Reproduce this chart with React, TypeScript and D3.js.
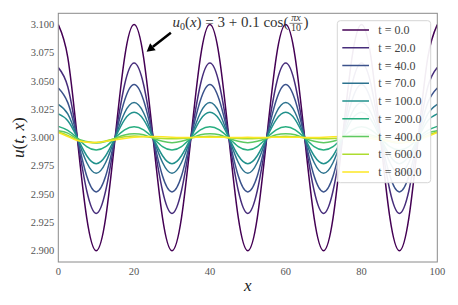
import * as d3 from "d3";
import { useEffect, useRef } from "react";

// sample positions along x (every 2.5 units)
const X_POS = [
  0, 2.5, 5, 7.5, 10, 12.5, 15, 17.5, 20, 22.5, 25, 27.5, 30, 32.5, 35, 37.5,
  40, 42.5, 45, 47.5, 50, 52.5, 55, 57.5, 60, 62.5, 65, 67.5, 70, 72.5, 75,
  77.5, 80, 82.5, 85, 87.5, 90, 92.5, 95, 97.5, 100,
];

const LABELS = ["0.0", "20.0", "40.0", "70.0", "100.0", "200.0", "400.0", "600.0", "800.0"];

// values, one array per time
const U_T0 = [
  3.1, 3.071, 3.0, 2.929, 2.9, 2.929, 3.0, 3.071, 3.1, 3.071, 3.0, 2.929, 2.9, 2.929, 3.0, 3.071,
  3.1, 3.071, 3.0, 2.929, 2.9, 2.929, 3.0, 3.071, 3.1, 3.071, 3.0, 2.929, 2.9, 2.929, 3.0, 3.071,
  3.1, 3.071, 3.0, 2.929, 2.9, 2.929, 3.0, 3.071, 3.1,
];
const U_T20 = [
  3.062, 3.045, 3.0, 2.953, 2.933, 2.953, 3.0, 3.047, 3.066, 3.047, 3.0, 2.953, 2.933, 2.953, 3.0, 3.047,
  3.066, 3.047, 3.0, 2.953, 2.933, 2.953, 3.0, 3.047, 3.066, 3.047, 3.0, 2.953, 2.933, 2.953, 3.0, 3.047,
  3.066, 3.047, 3.0, 2.953, 2.933, 2.953, 3.0, 3.045, 3.062,
];
const U_T40 = [
  3.044, 3.031, 3.0, 2.966, 2.952, 2.966, 3.0, 3.033, 3.047, 3.033, 3.0, 2.966, 2.952, 2.966, 3.0, 3.033,
  3.047, 3.033, 3.0, 2.966, 2.952, 2.966, 3.0, 3.033, 3.047, 3.033, 3.0, 2.966, 2.952, 2.966, 3.0, 3.033,
  3.047, 3.033, 3.0, 2.966, 2.952, 2.966, 3.0, 3.031, 3.044,
];
const U_T70 = [
  3.0295, 3.021, 3.0, 2.978, 2.9685, 2.978, 3.0, 3.022, 3.031, 3.022, 3.0, 2.978, 2.9685, 2.978, 3.0, 3.022,
  3.031, 3.022, 3.0, 2.978, 2.9685, 2.978, 3.0, 3.022, 3.031, 3.022, 3.0, 2.978, 2.9685, 2.978, 3.0, 3.022,
  3.031, 3.022, 3.0, 2.978, 2.9685, 2.978, 3.0, 3.021, 3.0295,
];
const U_T100 = [
  3.021, 3.015, 3.0, 2.984, 2.977, 2.984, 3.0, 3.016, 3.0224, 3.016, 3.0, 2.984, 2.977, 2.984, 3.0, 3.016,
  3.0224, 3.016, 3.0, 2.984, 2.977, 2.984, 3.0, 3.016, 3.0224, 3.016, 3.0, 2.984, 2.977, 2.984, 3.0, 3.016,
  3.0224, 3.016, 3.0, 2.984, 2.977, 2.984, 3.0, 3.015, 3.021,
];
const U_T200 = [
  3.01, 3.0065, 2.9997, 2.992, 2.989, 2.992, 2.9997, 3.0068, 3.0096, 3.0068, 2.9997, 2.992, 2.989, 2.992, 2.9997, 3.0068,
  3.0096, 3.0068, 2.9997, 2.992, 2.989, 2.992, 2.9997, 3.0068, 3.0096, 3.0068, 2.9997, 2.992, 2.989, 2.992, 2.9997, 3.0068,
  3.0096, 3.0068, 2.9997, 2.992, 2.989, 2.992, 2.9997, 3.0065, 3.01,
];
const U_T400 = [
  3.006, 3.004, 2.999, 2.9965, 2.9952, 2.9966, 2.9995, 3.0024, 3.0035, 3.0025, 2.9995, 2.9968, 2.9955, 2.9968, 2.9995, 3.0025,
  3.0035, 3.0025, 2.9995, 2.9968, 2.9955, 2.9968, 2.9995, 3.0025, 3.0035, 3.0025, 2.9995, 2.9968, 2.9955, 2.9968, 2.9995, 3.0024,
  3.0035, 3.0024, 2.9995, 2.9966, 2.9952, 2.9965, 2.999, 3.004, 3.006,
];
const U_T600 = [
  3.005, 3.002, 2.998, 2.9962, 2.9958, 2.997, 2.999, 3.0007, 3.0015, 3.001, 3.0, 2.9993, 2.999, 2.9993, 3.0, 3.0008,
  3.0012, 3.0008, 3.0, 2.9993, 2.999, 2.9993, 3.0, 3.0008, 3.0012, 3.0008, 3.0, 2.9993, 2.999, 2.9993, 3.0, 3.001,
  3.0015, 3.0007, 2.999, 2.997, 2.9958, 2.9962, 2.998, 3.002, 3.005,
];
const U_T800 = [
  3.0045, 3.001, 2.9975, 2.996, 2.9958, 2.9967, 2.998, 2.9993, 3.0003, 3.0009, 3.001, 3.0008, 3.0004, 3.0002, 3.0002, 3.0003,
  3.0004, 3.0003, 3.0002, 3.0002, 3.0003, 3.0002, 3.0002, 3.0003, 3.0004, 3.0003, 3.0002, 3.0002, 3.0004, 3.0008, 3.001, 3.0009,
  3.0003, 2.9993, 2.998, 2.9967, 2.9958, 2.996, 2.9975, 3.001, 3.0045,
];
const SERIES = [U_T0, U_T20, U_T40, U_T70, U_T100, U_T200, U_T400, U_T600, U_T800];

const X_TICKS = [0, 20, 40, 60, 80, 100];
const Y_TICKS = [2.9, 2.925, 2.95, 2.975, 3.0, 3.025, 3.05, 3.075, 3.1];

// annotation, in data units
const NOTE_TEXT_AT = [30.1, 3.098];
const ARROW_FROM = [29.7, 3.0928];
const ARROW_TO = [23.3, 3.076];

const W = 458;
const H = 305;
const PLOT = { left: 58.3, right: 437.3, top: 13.3, bottom: 262 };
const SERIF = "'Liberation Serif', 'DejaVu Serif', serif";

export default function App() {
  const svgRef = useRef<SVGSVGElement>(null);

  useEffect(() => {
    if (!svgRef.current) return;
    const svg = d3.select(svgRef.current);
    svg.selectAll("*").remove();

    const x = d3.scaleLinear().domain([0, 100]).range([PLOT.left, PLOT.right]);
    const y = d3.scaleLinear().domain([2.89, 3.11]).range([PLOT.bottom, PLOT.top]);
    const color = (i: number) => d3.interpolateViridis(i / (SERIES.length - 1));

    svg
      .append("clipPath")
      .attr("id", "plot-clip")
      .append("rect")
      .attr("x", PLOT.left)
      .attr("y", PLOT.top)
      .attr("width", PLOT.right - PLOT.left)
      .attr("height", PLOT.bottom - PLOT.top);

    const line = d3
      .line<number>()
      .x((_, i) => x(X_POS[i]))
      .y((d) => y(d))
      .curve(d3.curveNatural);

    const curves = svg.append("g").attr("clip-path", "url(#plot-clip)");
    SERIES.forEach((vals, i) => {
      curves
        .append("path")
        .datum(vals)
        .attr("fill", "none")
        .attr("stroke", color(i))
        .attr("stroke-width", 1.5)
        .attr("d", line);
    });

    // spines
    svg
      .append("rect")
      .attr("x", PLOT.left)
      .attr("y", PLOT.top)
      .attr("width", PLOT.right - PLOT.left)
      .attr("height", PLOT.bottom - PLOT.top)
      .attr("fill", "none")
      .attr("stroke", "#8a8a8a")
      .attr("stroke-width", 1);

    // tick labels
    svg
      .append("g")
      .selectAll("text")
      .data(Y_TICKS)
      .join("text")
      .attr("x", PLOT.left - 4)
      .attr("y", (d) => y(d))
      .attr("text-anchor", "end")
      .attr("dominant-baseline", "central")
      .attr("font-family", SERIF)
      .attr("font-size", 10.5)
      .attr("fill", "#555")
      .text((d) => d3.format(".3f")(d));

    svg
      .append("g")
      .selectAll("text")
      .data(X_TICKS)
      .join("text")
      .attr("x", (d) => x(d))
      .attr("y", PLOT.bottom + 9)
      .attr("text-anchor", "middle")
      .attr("dominant-baseline", "central")
      .attr("font-family", SERIF)
      .attr("font-size", 10.5)
      .attr("fill", "#555")
      .text((d) => String(d));

    // axis labels
    svg
      .append("text")
      .attr("x", (PLOT.left + PLOT.right) / 2)
      .attr("y", 285)
      .attr("text-anchor", "middle")
      .attr("dominant-baseline", "central")
      .attr("font-family", SERIF)
      .attr("font-size", 17)
      .attr("font-style", "italic")
      .attr("fill", "#222")
      .text("x");

    const yl = svg
      .append("text")
      .attr("transform", `translate(17.5,${(PLOT.top + PLOT.bottom) / 2}) rotate(-90)`)
      .attr("text-anchor", "middle")
      .attr("dominant-baseline", "central")
      .attr("font-family", SERIF)
      .attr("font-size", 17)
      .attr("fill", "#222");
    yl.append("tspan").attr("font-style", "italic").text("u");
    yl.append("tspan").text("(");
    yl.append("tspan").attr("font-style", "italic").text("t");
    yl.append("tspan").text(", ");
    yl.append("tspan").attr("font-style", "italic").text("x");
    yl.append("tspan").text(")");

    // annotation text
    const tx = x(NOTE_TEXT_AT[0]);
    const ty = y(NOTE_TEXT_AT[1]);
    const note = svg
      .append("text")
      .attr("x", tx)
      .attr("y", ty)
      .attr("font-family", SERIF)
      .attr("font-size", 15)
      .attr("fill", "#333");
    note.append("tspan").attr("font-style", "italic").text("u");
    note.append("tspan").attr("font-size", 10).attr("dy", 3).text("0");
    note.append("tspan").attr("dy", -3).text("(");
    note.append("tspan").attr("font-style", "italic").text("x");
    note.append("tspan").text(") = 3 + 0.1 cos(");
    const noteW = (note.node() as SVGTextElement).getComputedTextLength();
    const fx = tx + noteW + 1;
    const frac = svg.append("g").attr("font-family", SERIF).attr("fill", "#333");
    frac
      .append("text")
      .attr("x", fx + 6.5)
      .attr("y", ty - 6)
      .attr("text-anchor", "middle")
      .attr("font-size", 10)
      .attr("font-style", "italic")
      .text("πx");
    frac
      .append("text")
      .attr("x", fx + 6.5)
      .attr("y", ty + 4)
      .attr("text-anchor", "middle")
      .attr("font-size", 10)
      .text("10");
    frac
      .append("line")
      .attr("x1", fx)
      .attr("x2", fx + 13)
      .attr("y1", ty - 3.5)
      .attr("y2", ty - 3.5)
      .attr("stroke", "#333")
      .attr("stroke-width", 0.6);
    svg
      .append("text")
      .attr("x", fx + 14)
      .attr("y", ty)
      .attr("font-family", SERIF)
      .attr("font-size", 15)
      .attr("fill", "#333")
      .text(")");

    // arrow
    const x0 = x(ARROW_FROM[0]);
    const y0 = y(ARROW_FROM[1]);
    const x1 = x(ARROW_TO[0]);
    const y1 = y(ARROW_TO[1]);
    const len = Math.hypot(x1 - x0, y1 - y0);
    const ux = (x1 - x0) / len;
    const uy = (y1 - y0) / len;
    const headLen = 8;
    const headW = 4.5;
    const bx = x1 - ux * headLen;
    const by = y1 - uy * headLen;
    svg
      .append("line")
      .attr("x1", x0)
      .attr("y1", y0)
      .attr("x2", bx)
      .attr("y2", by)
      .attr("stroke", "#000")
      .attr("stroke-width", 2.5);
    svg
      .append("path")
      .attr(
        "d",
        `M${x1},${y1}L${bx - uy * headW},${by + ux * headW}L${bx + uy * headW},${by - ux * headW}Z`
      )
      .attr("fill", "#000");

    // legend
    const lg = svg.append("g");
    lg.append("rect")
      .attr("x", 337.3)
      .attr("y", 20.7)
      .attr("width", 93.4)
      .attr("height", 162)
      .attr("rx", 3)
      .attr("fill", "#fff")
      .attr("fill-opacity", 0.93)
      .attr("stroke", "#d6d6d6")
      .attr("stroke-width", 1);
    LABELS.forEach((lab, i) => {
      const ry = 30 + i * 17.75;
      lg.append("line")
        .attr("x1", 342.3)
        .attr("x2", 369)
        .attr("y1", ry)
        .attr("y2", ry)
        .attr("stroke", color(i))
        .attr("stroke-width", 1.5);
      lg.append("text")
        .attr("x", 378.3)
        .attr("y", ry)
        .attr("dominant-baseline", "central")
        .attr("font-family", SERIF)
        .attr("font-size", 12)
        .attr("fill", "#444")
        .attr("xml:space", "preserve")
        .text(`t = ${lab}`);
    });
  }, []);

  return (
    <svg
      ref={svgRef}
      width={W}
      height={H}
      viewBox={`0 0 ${W} ${H}`}
      style={{ position: "absolute", left: 0, top: 0, background: "#fff" }}
    />
  );
}
